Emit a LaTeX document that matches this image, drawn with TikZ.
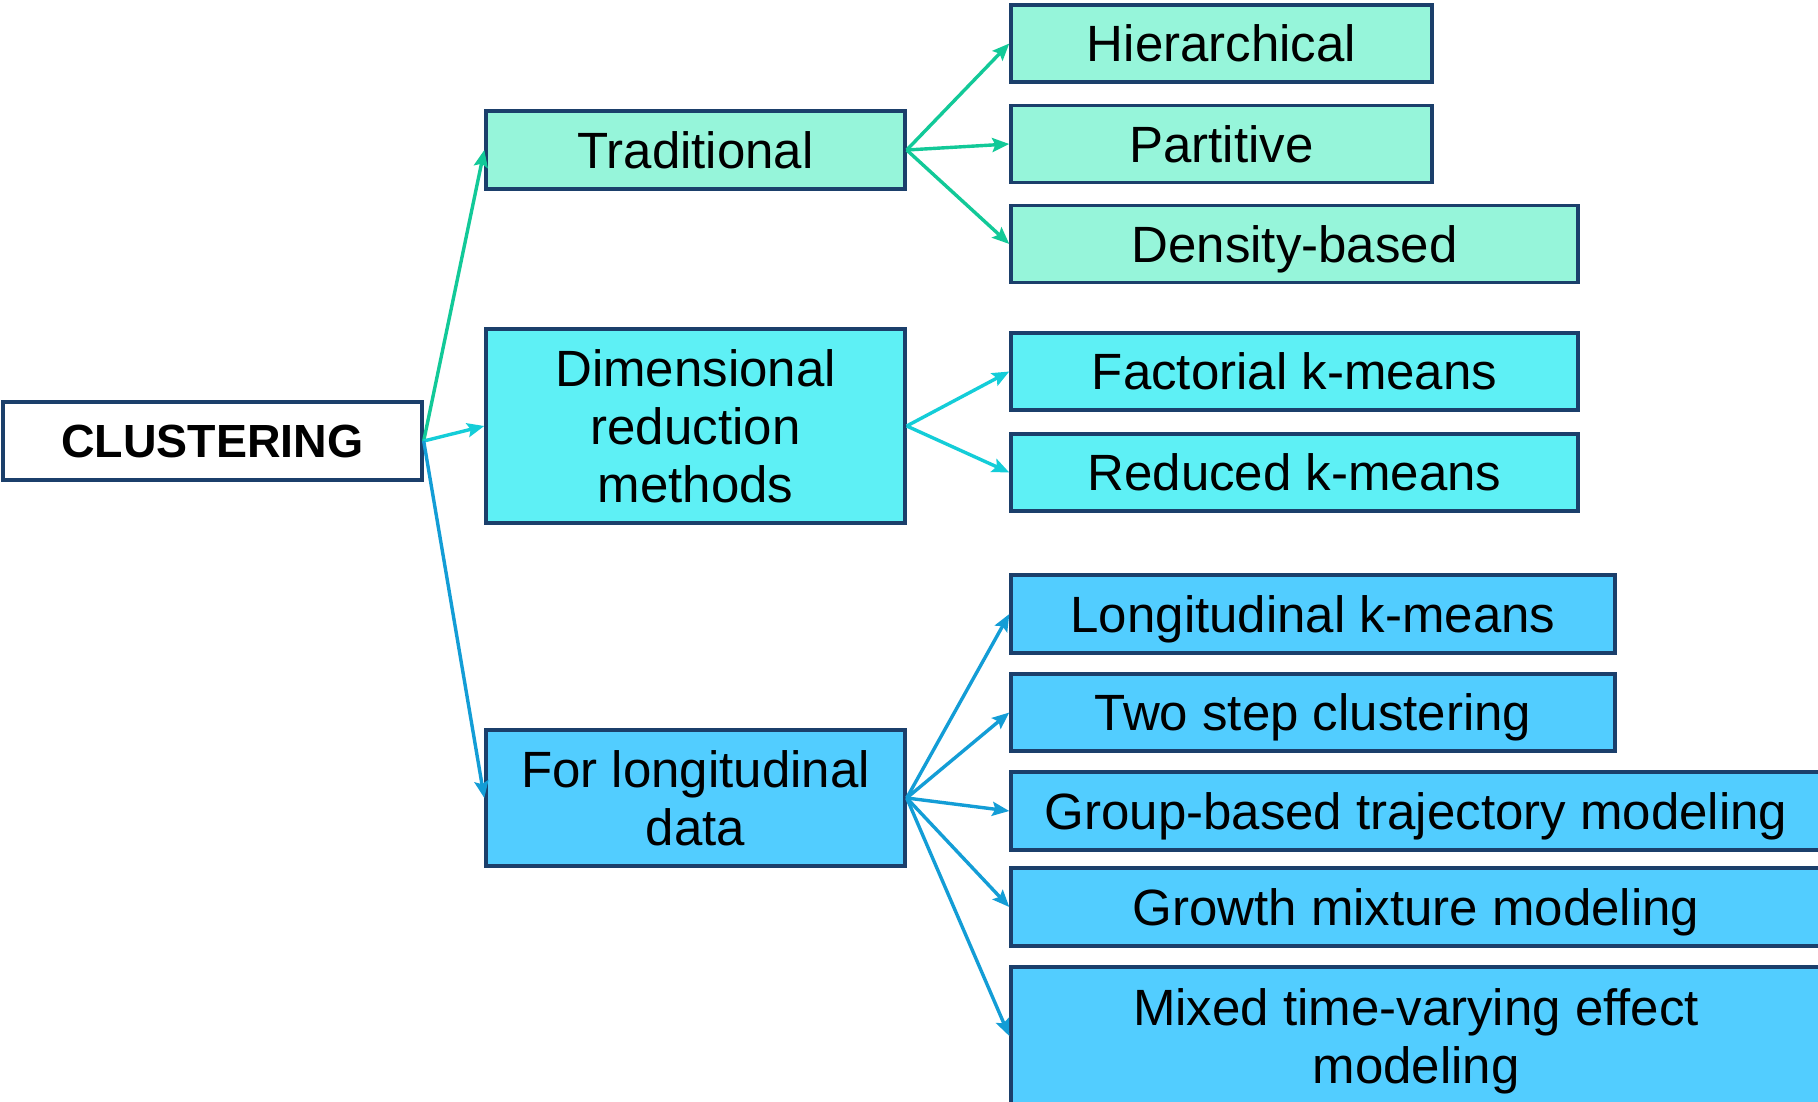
\documentclass[tikz,border=0pt]{standalone}
\usepackage{fontspec}
\setmainfont{Liberation Sans}
\usetikzlibrary{arrows.meta}
\definecolor{bordc}{HTML}{1B3F6B}
\definecolor{mintf}{HTML}{96F5DA}
\definecolor{cyanf}{HTML}{5EF0F5}
\definecolor{bluef}{HTML}{52CDFF}
\definecolor{mintl}{HTML}{12C998}
\definecolor{cyanl}{HTML}{14CDD8}
\definecolor{bluel}{HTML}{139DD6}
\tikzset{
  box/.style={draw=bordc, line width=3.4pt, inner sep=0pt, align=center,
    font=\fontsize{51}{58}\selectfont, anchor=center, text depth=0pt},
  conn/.style={line width=3.4pt, -{Stealth[length=17pt,width=14pt,inset=3pt]}},
}
\begin{document}
\begin{tikzpicture}[x=1pt,y=-1pt]
\clip (0,0) rectangle (1818,1102);
\fill[white] (0,0) rectangle (1818,1102);
% root
\node[box, fill=white, minimum width=419pt, minimum height=78pt,
  font=\fontsize{46.5}{58}\selectfont\bfseries] (clus) at (212.5,441) {CLUSTERING};
% level 1
\node[box, fill=mintf, minimum width=419pt, minimum height=78pt] (trad) at (695.5,150) {Traditional};
\node[box, fill=cyanf, minimum width=419pt, minimum height=194pt] (dim) at (695.5,426) {Dimensional\\reduction\\methods};
\node[box, fill=bluef, minimum width=419pt, minimum height=136pt] (long) at (695.5,798) {For longitudinal\\data};
% traditional children
\node[box, fill=mintf, minimum width=421pt, minimum height=77pt] (hier) at (1221.5,43.5) {Hierarchical};
\node[box, fill=mintf, minimum width=421pt, minimum height=77pt] (part) at (1221.5,144) {Partitive};
\node[box, fill=mintf, minimum width=567pt, minimum height=77pt] (dens) at (1294.5,244) {Density-based};
% dimensional children
\node[box, fill=cyanf, minimum width=567pt, minimum height=77pt] (fact) at (1294.5,371.5) {Factorial k-means};
\node[box, fill=cyanf, minimum width=567pt, minimum height=77pt] (red) at (1294.5,472.5) {Reduced k-means};
% longitudinal children
\node[box, fill=bluef, minimum width=604pt, minimum height=78pt] (lkm) at (1313,614) {Longitudinal k-means};
\node[box, fill=bluef, minimum width=604pt, minimum height=77pt] (two) at (1313,712.5) {Two step clustering};
\node[box, fill=bluef, minimum width=810pt, minimum height=78pt] (grp) at (1416,811) {Group-based trajectory modeling};
\node[box, fill=bluef, minimum width=810pt, minimum height=78pt] (grow) at (1416,907) {Growth mixture modeling};
\node[box, fill=bluef, minimum width=810pt, minimum height=138pt] (mix) at (1416,1036) {Mixed time-varying effect\\modeling};
% connectors
\draw[conn, mintl] (clus.east) -- (trad.west);
\draw[conn, cyanl] (clus.east) -- (dim.west);
\draw[conn, bluel] (clus.east) -- (long.west);
\draw[conn, mintl] (trad.east) -- (hier.west);
\draw[conn, mintl] (trad.east) -- (part.west);
\draw[conn, mintl] (trad.east) -- (dens.west);
\draw[conn, cyanl] (dim.east) -- (fact.west);
\draw[conn, cyanl] (dim.east) -- (red.west);
\draw[conn, bluel] (long.east) -- (lkm.west);
\draw[conn, bluel] (long.east) -- (two.west);
\draw[conn, bluel] (long.east) -- (grp.west);
\draw[conn, bluel] (long.east) -- (grow.west);
\draw[conn, bluel] (long.east) -- (mix.west);
\end{tikzpicture}
\end{document}
